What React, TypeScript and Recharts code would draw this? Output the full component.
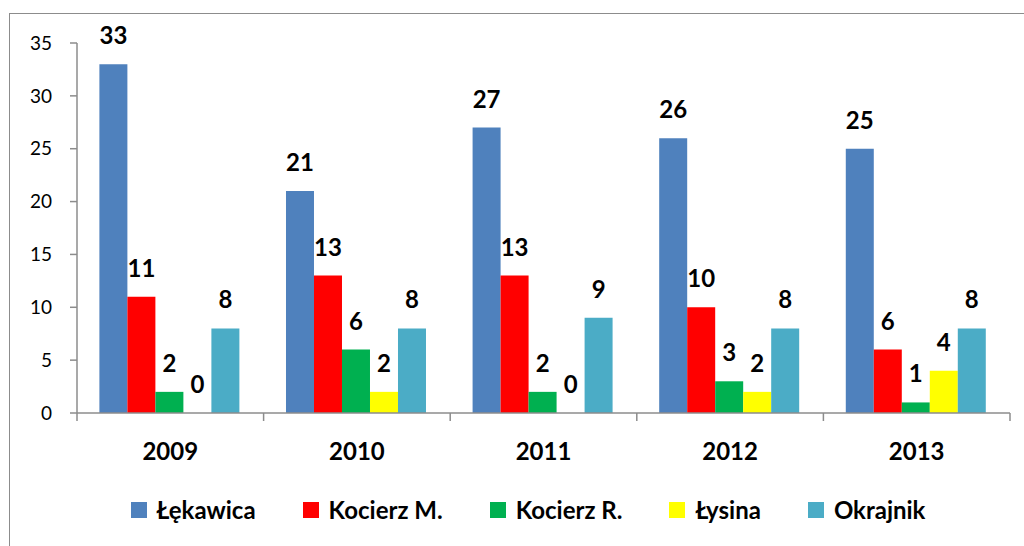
import React from 'react';
import { BarChart, Bar, XAxis, YAxis, Legend, LabelList } from 'recharts';

const years = ['2009', '2010', '2011', '2012', '2013'];
const lekawica = [33, 21, 27, 26, 25];
const kocierzM = [11, 13, 13, 10, 6];
const kocierzR = [2, 6, 2, 3, 1];
const lysina = [0, 2, 0, 2, 4];
const okrajnik = [8, 8, 9, 8, 8];
const yTicks = [0, 5, 10, 15, 20, 25, 30, 35];

const series = [
  { key: 'lekawica', name: 'Łękawica', color: '#4F81BD' },
  { key: 'kocierzM', name: 'Kocierz M.', color: '#FF0000' },
  { key: 'kocierzR', name: 'Kocierz R.', color: '#00B050' },
  { key: 'lysina', name: 'Łysina', color: '#FFFF00' },
  { key: 'okrajnik', name: 'Okrajnik', color: '#4BACC6' },
];

const data = years.map((year, i) => ({
  year,
  lekawica: lekawica[i],
  kocierzM: kocierzM[i],
  kocierzR: kocierzR[i],
  lysina: lysina[i],
  okrajnik: okrajnik[i],
}));

const font = 'Lato, "Open Sans", sans-serif';
const axisColor = '#8c8c8c';

const renderValue = (props: any) => {
  const { x, y, width, value } = props;
  return (
    <text x={x + width / 2} y={y - 20} textAnchor="middle" fill="#000" fontSize={24} fontWeight={700} fontFamily={font}>
      {value}
    </text>
  );
};

// category label plus tick marks on the band boundaries (Excel style)
const YearTick = (props: any) => {
  const { x, y, payload, index, visibleTicksCount } = props;
  const half = payload.offset || 0;
  const last = index === (visibleTicksCount ?? years.length) - 1;
  return (
    <g>
      <line x1={x - half} x2={x - half} y1={y} y2={y + 8} stroke={axisColor} strokeWidth={1.5} />
      {last && <line x1={x + half} x2={x + half} y1={y} y2={y + 8} stroke={axisColor} strokeWidth={1.5} />}
      <text x={x} y={y + 47} textAnchor="middle" fill="#000" fontSize={24} fontWeight={700} fontFamily={font}>
        {payload.value}
      </text>
    </g>
  );
};

const renderLegend = () => (
  <div style={{ display: 'flex', justifyContent: 'center', alignItems: 'center', fontFamily: font, paddingLeft: 32, lineHeight: '28px' }}>
    {series.map((s, i) => (
      <div key={s.key} style={{ display: 'flex', alignItems: 'center', marginRight: i === series.length - 1 ? 0 : 47 }}>
        <span style={{ width: 16, height: 16, background: s.color, display: 'inline-block', marginRight: 10 }} />
        <span style={{ fontSize: 24, fontWeight: 700, color: '#000' }}>{s.name}</span>
      </div>
    ))}
  </div>
);

export default function App() {
  return (
    <div style={{ position: 'absolute', left: 0, top: 0, width: 1024, height: 546, background: '#fff', overflow: 'hidden' }}>
      <div
        style={{
          position: 'absolute',
          left: 9,
          top: 13,
          width: 1100,
          height: 600,
          borderLeft: `1.5px solid ${axisColor}`,
          borderTop: `1.5px solid ${axisColor}`,
        }}
      />
      <BarChart
        width={1024}
        height={546}
        data={data}
        margin={{ top: 43, right: 14, bottom: 45, left: 17 }}
        barCategoryGap="12%"
        barGap={0}
        style={{ position: 'absolute', left: 0, top: 0 }}
      >
        <XAxis
          dataKey="year"
          height={60}
          axisLine={{ stroke: axisColor, strokeWidth: 1.5 }}
          tickLine={false}
          tickSize={0}
          tickMargin={0}
          interval={0}
          tick={<YearTick />}
        />
        <YAxis
          width={60}
          domain={[0, 35]}
          ticks={yTicks}
          interval={0}
          axisLine={{ stroke: axisColor, strokeWidth: 1.5 }}
          tickSize={7}
          tickMargin={18}
          tickLine={{ stroke: axisColor, strokeWidth: 1.5 }}
          tick={{ fill: '#000', fontSize: 19, fontFamily: font }}
        />
        <Legend verticalAlign="bottom" content={renderLegend} wrapperStyle={{ bottom: 22, left: 0, width: 1024 }} />
        {series.map((s) => (
          <Bar
            key={s.key}
            dataKey={s.key}
            name={s.name}
            fill={s.color}
            minPointSize={0.01}
            isAnimationActive={false}
          >
            <LabelList dataKey={s.key} content={renderValue} />
          </Bar>
        ))}
      </BarChart>
    </div>
  );
}
